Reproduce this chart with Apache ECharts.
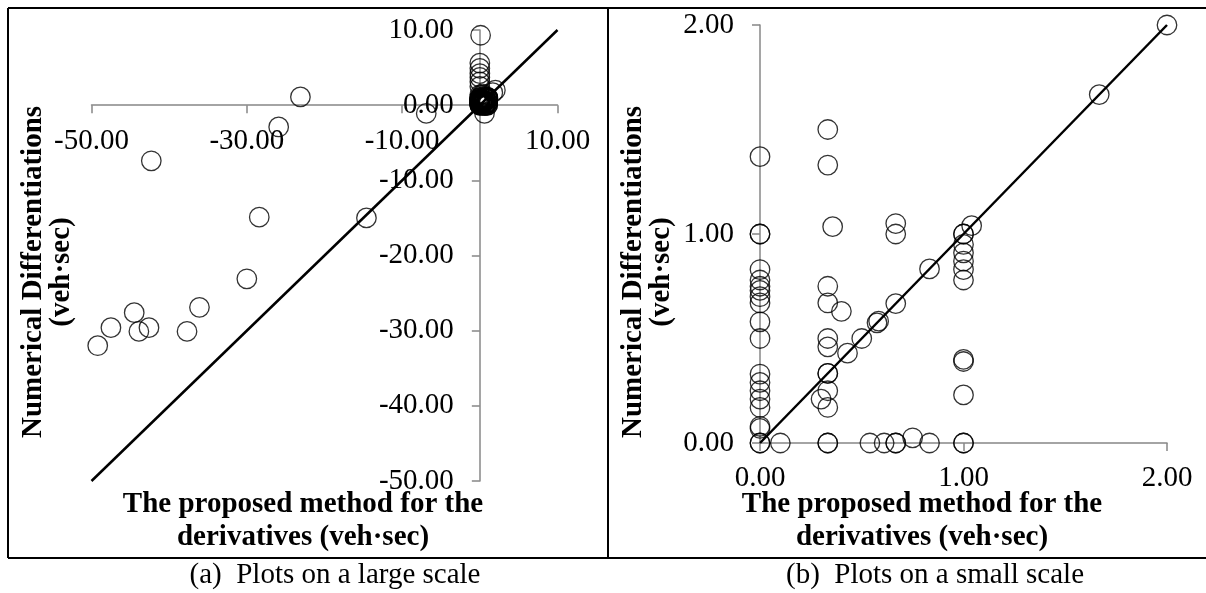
<!DOCTYPE html>
<html>
<head>
<meta charset="utf-8">
<script src="https://cdn.jsdelivr.net/npm/echarts@6/dist/echarts.min.js"></script>
<style>
html,body{margin:0;padding:0;background:#fff;}
#chart{width:1206px;height:593px;}
</style>
</head>
<body>
<div id="chart"></div>
<script>
// ---- Data ----
// Points visible on the small scale (0..2); they also form the cluster at the origin of the large-scale plot
const smallX = [0,0,0,0,0,0,0,0,0,0,0,0,0,0,0,0,0,0,0,0,0.10,
  0.333,0.333,0.357,0.333,0.333,0.40,0.333,0.333,0.43,0.333,0.333,0.333,0.30,0.333,0.333,0.333,
  0.50,0.575,0.583,0.667,0.667,0.667,0.54,0.61,0.667,0.667,0.75,0.833,0.833,
  1,1,1.04,1,1,1,1,1,1,1,1,1,1,1.667,2];
const smallY = [1.37,1.00,1.00,0.83,0.78,0.75,0.73,0.70,0.67,0.58,0.50,0.33,0.29,0.25,0.21,0.17,0.08,0.07,0,0,0,
  1.50,1.33,1.035,0.75,0.67,0.63,0.50,0.46,0.43,0.333,0.333,0.25,0.21,0.17,0,0,
  0.50,0.575,0.583,0.667,1.05,1.00,0,0,0,0,0.025,0,0.833,
  1,1,1.04,0.95,0.91,0.87,0.83,0.78,0.40,0.39,0.23,0,0,1.667,2];
// Additional points only visible on the large scale
const largeX = [0.1,0,0,0,0,0,0,0.6,-6.9,-23.1,-25.9,-42.3,-28.4,-14.6,-30.0,-36.1,-44.5,-47.5,-43.9,-42.6,-37.7,-49.2];
const largeY = [9.3,5.6,4.9,4.2,3.7,3.1,2.5,-1.1,-1.1,1.1,-2.9,-7.4,-14.9,-15.0,-23.1,-26.9,-27.6,-29.6,-30.1,-29.6,-30.1,-32.0];
// Reference line y = x endpoints
const lineLarge = [-50, 10];
const lineSmall = [0, 2];
// Axis ticks
const largeXTicks = [-50, -30, -10, 10];
const largeRange = [-50, 10];
const smallRange = [0, 2];

const smallPts = smallX.map((x, i) => [x, smallY[i]]);
const largePts = smallPts.concat(largeX.map((x, i) => [x, largeY[i]]));

const FONT = "'Liberation Serif','Times New Roman',serif";
const axisGray = '#878787';
const fmt = v => Number(v).toFixed(2);

function axisOpt(extra, labelExtra, tickExtra) {
  return Object.assign({
    type: 'value',
    splitLine: {show: false},
    axisLine: {show: true, onZero: false, lineStyle: {color: axisGray, width: 1.5}},
    axisTick: Object.assign({show: true, length: 8, lineStyle: {color: axisGray, width: 1.5}}, tickExtra || {}),
    axisLabel: Object.assign({color: '#000', fontFamily: FONT, fontSize: 29, showMinLabel: true, showMaxLabel: true,
      formatter: fmt}, labelExtra || {})
  }, extra);
}
function hiddenAxis(extra) {
  return Object.assign({type: 'value', show: false, splitLine: {show: false}}, extra);
}

const circleStyle = {color: 'rgba(0,0,0,0)', borderColor: '#000', borderWidth: 1.3};

function txt(x, y, text, opts) {
  return {
    type: 'text', x: x, y: y, silent: true,
    style: Object.assign({text: text, fill: '#000', font: '29px ' + FONT,
      textAlign: 'center', textVerticalAlign: 'middle', align: 'center', verticalAlign: 'middle'}, opts || {})
  };
}
function boldTxt(x, y, text, rot) {
  const t = txt(x, y, text, {font: 'bold 29px ' + FONT});
  if (rot) t.rotation = rot;
  return t;
}
function line(x1, y1, x2, y2) {
  return {type: 'line', silent: true, shape: {x1, y1, x2, y2}, style: {stroke: '#000', lineWidth: 2}};
}

// layout of the large-scale plot area
const L = {left: 91.5, top: 30, width: 466, height: 451};
const zeroX = L.left + L.width * (0 - largeRange[0]) / (largeRange[1] - largeRange[0]);
const zeroY = L.top + L.height * (largeRange[1] - 0) / (largeRange[1] - largeRange[0]);
const gridBase = {containLabel: false, outerBoundsMode: 'none'};

const chart = echarts.init(document.getElementById('chart'));
chart.setOption({
  animation: false,
  backgroundColor: '#fff',
  grid: [
    Object.assign({left: L.left, top: L.top, width: L.width, height: L.height}, gridBase),           // 0 large plot area
    Object.assign({left: L.left, top: L.top, width: L.width, height: zeroY - L.top}, gridBase),      // 1 x-axis at y=0
    Object.assign({left: zeroX, top: L.top, width: L.left + L.width - zeroX, height: L.height}, gridBase), // 2 y-axis at x=0
    Object.assign({left: 760, top: 25, width: 407, height: 418}, gridBase)                         // 3 small plot
  ],
  xAxis: [
    hiddenAxis({gridIndex: 0, min: largeRange[0], max: largeRange[1]}),
    axisOpt({gridIndex: 1, position: 'bottom', min: largeRange[0], max: largeRange[1], interval: 10},
      {margin: 22, customValues: largeXTicks}, {customValues: largeXTicks}),
    hiddenAxis({gridIndex: 2, min: 0, max: largeRange[1]}),
    axisOpt({gridIndex: 3, position: 'bottom', min: smallRange[0], max: smallRange[1], interval: 1}, {margin: 21})
  ],
  yAxis: [
    hiddenAxis({gridIndex: 0, min: largeRange[0], max: largeRange[1]}),
    hiddenAxis({gridIndex: 1, min: 0, max: largeRange[1]}),
    axisOpt({gridIndex: 2, position: 'left', min: largeRange[0], max: largeRange[1], interval: 10}, {margin: 26}),
    axisOpt({gridIndex: 3, position: 'left', min: smallRange[0], max: smallRange[1], interval: 1}, {margin: 26})
  ],
  series: [
    {type: 'line', xAxisIndex: 0, yAxisIndex: 0, data: lineLarge.map(v => [v, v]), symbol: 'none',
      lineStyle: {color: '#000', width: 2.5}, z: 3, silent: true},
    {type: 'scatter', xAxisIndex: 0, yAxisIndex: 0, data: largePts, symbol: 'circle', symbolSize: 19.5,
      itemStyle: circleStyle, clip: false, z: 4, silent: true},
    {type: 'line', xAxisIndex: 3, yAxisIndex: 3, data: lineSmall.map(v => [v, v]), symbol: 'none',
      lineStyle: {color: '#000', width: 2.5}, z: 3, silent: true},
    {type: 'scatter', xAxisIndex: 3, yAxisIndex: 3, data: smallPts, symbol: 'circle', symbolSize: 19.5,
      itemStyle: circleStyle, clip: false, z: 4, silent: true}
  ],
  graphic: [
    line(8, 8, 1206, 8),
    line(8, 558, 1206, 558),
    line(8, 8, 8, 558),
    line(608, 8, 608, 558),
    boldTxt(303, 505, 'The proposed method for the'),
    boldTxt(303, 538, 'derivatives (veh·sec)'),
    boldTxt(922, 505, 'The proposed method for the'),
    boldTxt(922, 538, 'derivatives (veh·sec)'),
    boldTxt(34, 272, 'Numerical Differentiations', Math.PI / 2),
    boldTxt(62, 272, '(veh·sec)', Math.PI / 2),
    boldTxt(634, 272, 'Numerical Differentiations', Math.PI / 2),
    boldTxt(662, 272, '(veh·sec)', Math.PI / 2),
    txt(335, 575, '(a)  Plots on a large scale'),
    txt(935, 575, '(b)  Plots on a small scale')
  ]
});
</script>
</body>
</html>
